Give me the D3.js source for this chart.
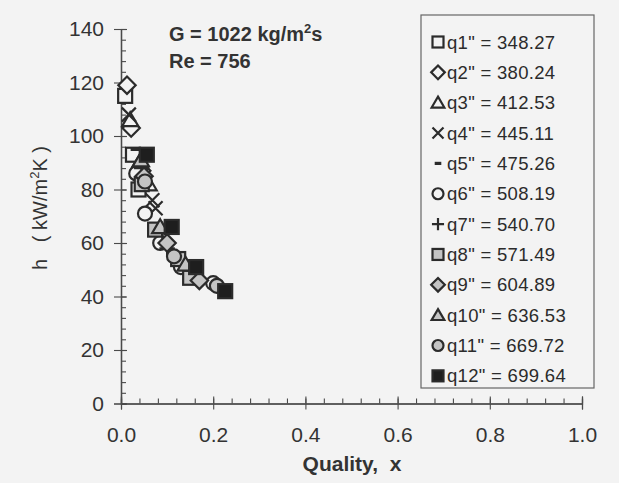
<!DOCTYPE html>
<html>
<head>
<meta charset="utf-8">
<script src="https://cdn.jsdelivr.net/npm/d3@7"></script>
<style>
  html, body { margin: 0; padding: 0; background: #f3f3f3; }
  svg { display: block; font-family: "Liberation Sans", Arial, sans-serif; }
  text { white-space: pre; }
</style>
</head>
<body>
<svg id="chart" width="619" height="483"></svg>
<script>
// Heat flux series (q", kW/m²) and their measured points: quality x, h (kW/m²K)
const seriesNames = ['q1" = 348.27', 'q2" = 380.24', 'q3" = 412.53', 'q4" = 445.11',
  'q5" = 475.26', 'q6" = 508.19', 'q7" = 540.70', 'q8" = 571.49',
  'q9" = 604.89', 'q10" = 636.53', 'q11" = 669.72', 'q12" = 699.64'];

const q1 = [[0.009, 115], [0.026, 93], [0.038, 80]];
const q2 = [[0.013, 119], [0.022, 103], [0.045, 87]];
const q3 = [[0.020, 106], [0.040, 90], [0.060, 82]];
const q4 = [[0.017, 108], [0.068, 76], [0.075, 73]];
const q5 = [[0.030, 95], [0.050, 84], [0.090, 62]];
const q6 = [[0.033, 86], [0.052, 71], [0.085, 60], [0.130, 51], [0.200, 45]];
const q7 = [[0.045, 88], [0.090, 64], [0.100, 58]];
const q8 = [[0.045, 82], [0.074, 65], [0.124, 54], [0.150, 47]];
const q9 = [[0.050, 85], [0.100, 60], [0.170, 46]];
const q10 = [[0.043, 91], [0.085, 66], [0.140, 52]];
const q11 = [[0.052, 83], [0.115, 55], [0.208, 44]];
const q12 = [[0.056, 93], [0.110, 66], [0.163, 51], [0.226, 42]];
const seriesValues = [q1, q2, q3, q4, q5, q6, q7, q8, q9, q10, q11, q12];

const xTicks = [0, 0.2, 0.4, 0.6, 0.8, 1.0];
const yTicks = [0, 20, 40, 60, 80, 100, 120, 140];

// Marker style per series
const markerShape = ["square", "diamond", "triangle", "times", "dash", "circle",
  "plus", "square", "diamond", "triangle", "circle", "square"];
const markerFill = ["open", "open", "open", "line", "line", "open",
  "line", "gray", "gray", "gray", "gray", "solid"];

const svg = d3.select("#chart");
const ink = "#2b2b2b";
const bgFill = "#f3f3f3";

svg.append("rect").attr("width", 619).attr("height", 483).attr("fill", bgFill);

const x = d3.scaleLinear().domain([0, 1]).range([121, 582]);
const y = d3.scaleLinear().domain([0, 140]).range([403.5, 29]);

// ---- Axes ----
const axisColor = "#4a4a4a";
function styleAxis(g) {
  g.select(".domain").attr("stroke", axisColor).attr("stroke-width", 1.2);
  g.selectAll(".tick line").attr("stroke", axisColor).attr("stroke-width", 1.1);
  g.selectAll(".tick text").attr("fill", "#333").attr("font-size", 21)
    .attr("font-family", "Liberation Sans, Arial, sans-serif");
}
const xMinor = d3.range(0, 1.0001, 0.04).map(v => +v.toFixed(2));
const yMinor = d3.range(0, 140.001, 4);

// x minor ticks (upward)
svg.append("g").attr("transform", `translate(0,${y(0)})`)
  .call(d3.axisTop(x).tickValues(xMinor).tickSize(5).tickFormat(""))
  .call(styleAxis);
// x major ticks crossing the axis
svg.append("g").attr("transform", `translate(0,${y(0)})`)
  .call(d3.axisTop(x).tickValues(xTicks).tickSize(7).tickFormat(""))
  .call(styleAxis);
svg.append("g").attr("transform", `translate(0,${y(0)})`)
  .call(d3.axisBottom(x).tickValues(xTicks).tickSize(6).tickPadding(18)
    .tickFormat(d3.format(".1f")))
  .call(styleAxis);

// y minor ticks (right side)
svg.append("g").attr("transform", `translate(${x(0)},0)`)
  .call(d3.axisRight(y).tickValues(yMinor).tickSize(5).tickFormat(""))
  .call(styleAxis);
svg.append("g").attr("transform", `translate(${x(0)},0)`)
  .call(d3.axisRight(y).tickValues(yTicks).tickSize(6).tickFormat(""))
  .call(styleAxis);
svg.append("g").attr("transform", `translate(${x(0)},0)`)
  .call(d3.axisLeft(y).tickValues(yTicks).tickSize(7).tickPadding(10)
    .tickFormat(d3.format("d")))
  .call(styleAxis);

// ---- Axis titles ----
svg.append("text").attr("x", 352).attr("y", 471).attr("text-anchor", "middle")
  .attr("font-size", 21).attr("font-weight", "bold").attr("fill", "#333")
  .text("Quality,  x");

const yt = svg.append("text").attr("transform", "translate(47,208) rotate(-90)")
  .attr("text-anchor", "middle").attr("font-size", 20).attr("fill", "#333");
yt.append("tspan").text("h   ( kW/m");
yt.append("tspan").attr("dy", -8).attr("font-size", 13).text("2");
yt.append("tspan").attr("dy", 8).text("K )");

// ---- Annotations ----
const ann = svg.append("g").attr("font-size", 20).attr("font-weight", "bold").attr("fill", "#333");
const g1 = ann.append("text").attr("x", 169).attr("y", 41);
g1.append("tspan").text("G = 1022 kg/m");
g1.append("tspan").attr("dy", -8).attr("font-size", 13).text("2");
g1.append("tspan").attr("dy", 8).text("s");
ann.append("text").attr("x", 169).attr("y", 68).text("Re = 756");

// ---- Markers ----
function drawMarker(sel, shape, fill, s) {
  const fillColor = fill === "gray" ? "#c4c4c4" : fill === "solid" ? "#1e1e1e" : bgFill;
  const sw = 2.2;
  if (shape === "square") {
    sel.append("rect").attr("x", -s / 2).attr("y", -s / 2).attr("width", s).attr("height", s)
      .attr("fill", fillColor).attr("stroke", ink).attr("stroke-width", sw);
  } else if (shape === "circle") {
    sel.append("circle").attr("r", s / 2)
      .attr("fill", fillColor).attr("stroke", ink).attr("stroke-width", sw);
  } else if (shape === "diamond") {
    const h = s * 0.62;
    sel.append("path").attr("d", `M0,${-h}L${h},0L0,${h}L${-h},0Z`)
      .attr("fill", fillColor).attr("stroke", ink).attr("stroke-width", sw);
  } else if (shape === "triangle") {
    const h = s * 0.55;
    sel.append("path").attr("d", `M0,${-h}L${h * 1.05},${h * 0.8}L${-h * 1.05},${h * 0.8}Z`)
      .attr("fill", fillColor).attr("stroke", ink).attr("stroke-width", sw);
  } else if (shape === "times") {
    const h = s * 0.5;
    sel.append("path").attr("d", `M${-h},${-h}L${h},${h}M${-h},${h}L${h},${-h}`)
      .attr("fill", "none").attr("stroke", ink).attr("stroke-width", sw);
  } else if (shape === "plus") {
    const h = s * 0.55;
    sel.append("path").attr("d", `M${-h},0L${h},0M0,${-h}L0,${h}`)
      .attr("fill", "none").attr("stroke", ink).attr("stroke-width", sw);
  } else if (shape === "dash") {
    const h = s * 0.3;
    sel.append("path").attr("d", `M${-h},0L${h},0`)
      .attr("fill", "none").attr("stroke", ink).attr("stroke-width", sw + 1);
  }
}

const plot = svg.append("g");
seriesValues.forEach((pts, i) => {
  pts.forEach(p => {
    const g = plot.append("g").attr("transform", `translate(${x(p[0])},${y(p[1])})`);
    drawMarker(g, markerShape[i], markerFill[i], 14);
  });
});

// ---- Legend ----
const legend = svg.append("g");
legend.append("rect").attr("x", 421).attr("y", 15).attr("width", 173).attr("height", 373)
  .attr("fill", "none").attr("stroke", "#666").attr("stroke-width", 1.2);
seriesNames.forEach((name, i) => {
  const ly = 42 + i * 30.35;
  const g = legend.append("g").attr("transform", `translate(438,${ly})`);
  drawMarker(g, markerShape[i], markerFill[i], 11);
  legend.append("text").attr("x", 447).attr("y", ly + 6.5).attr("font-size", 18.5)
    .attr("letter-spacing", 0.3).attr("fill", "#2b2b2b").text(name);
});
</script>
</body>
</html>
